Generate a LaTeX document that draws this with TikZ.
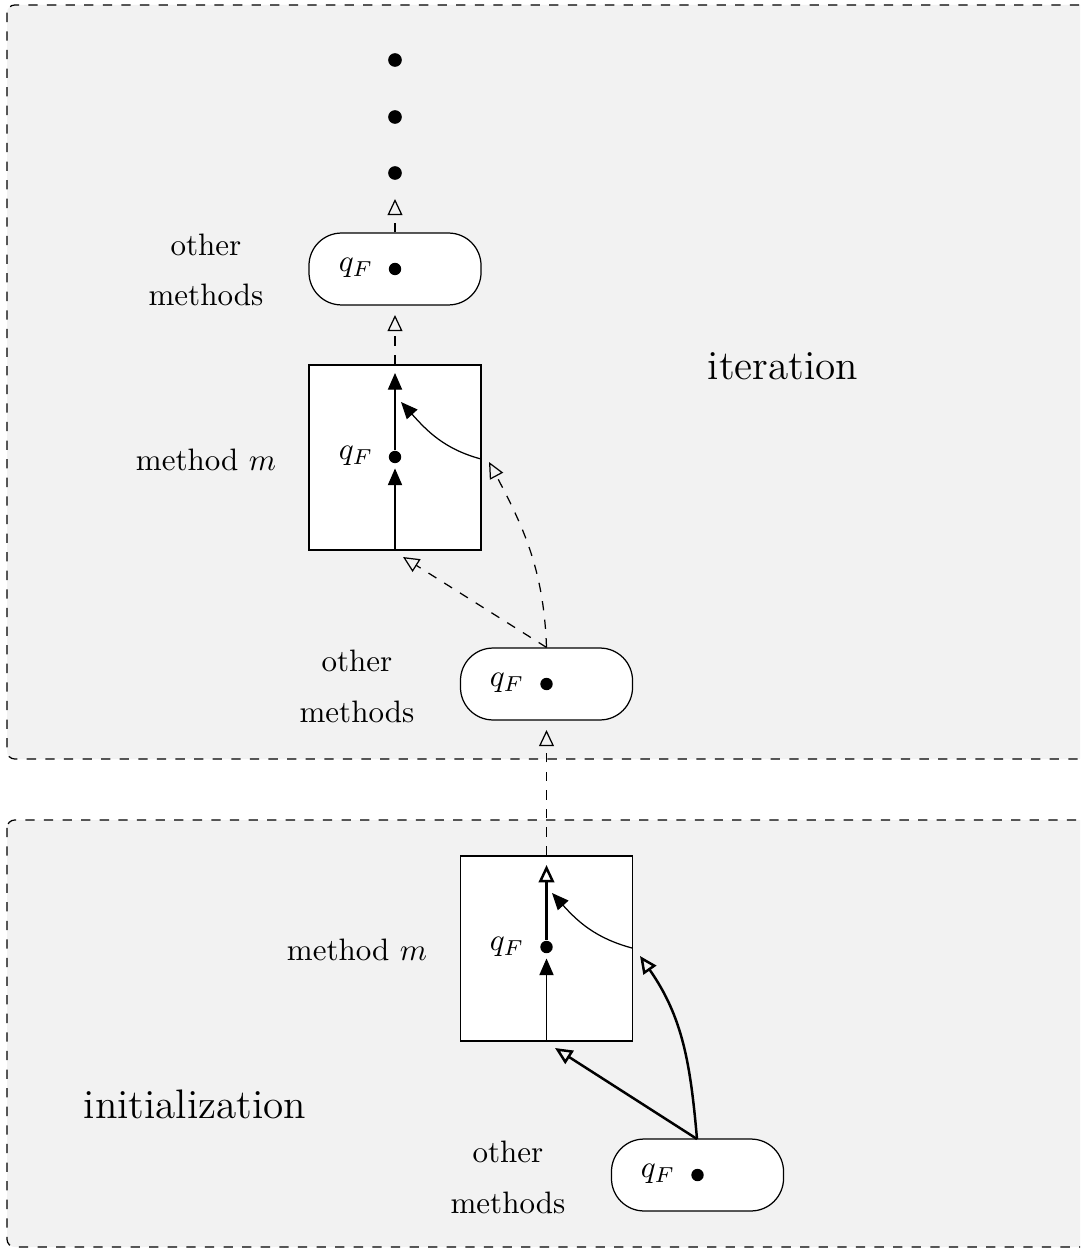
\documentclass[tikz,border=0pt]{standalone}
\usetikzlibrary{arrows.meta}
\begin{document}
\begin{tikzpicture}[x=0.3226pt,y=-0.3226pt,
  region/.style={draw,dashed,fill=black!5,rounded corners=2.5pt},
  roundnode/.style={draw,fill=white,rounded corners=10.5pt,minimum width=55.5pt,minimum height=23.2pt,inner sep=0pt},
  methbox/.style={draw,fill=white,minimum width=55.5pt,minimum height=59.7pt,inner sep=0pt},
  bigdot/.style={circle,fill=black,minimum size=4pt,inner sep=0pt},
  stackdot/.style={circle,fill=black,minimum size=4.4pt,inner sep=0pt},
  lbl/.style={align=center,font=\fontsize{10}{16.4}\selectfont},
  big/.style={font=\fontsize{13.3}{16}\selectfont},
  openarr/.style={-{Triangle[open,length=5.6pt,width=5pt]}},
  fillarr/.style={-{Triangle[length=5.4pt,width=4.6pt]}},
  dasharr/.style={dashed,-{Triangle[open,length=5.2pt,width=4.8pt]}}]
\clip (0,0) rectangle (1080,1249);
\useasboundingbox (0,0) rectangle (1080,1249);
\fill[white] (0,0) rectangle (1080,1249);
% regions
\draw[region] (7,5) rectangle (1100,759);
\draw[region] (7,820) rectangle (1100,1247);
% labels
\node[big] (iterlbl) at (783,366) {iteration};
\node[big] (initlbl) at (195,1104) {initialization};
% stacked dots
\node[stackdot] (d1) at (395,60) {};
\node[stackdot] (d2) at (395,117) {};
\node[stackdot] (d3) at (395,173) {};
\coordinate (topend) at (395,199);
% top node
\node[roundnode] (n1) at (395,269) {};
\node (n1q) at (356,268) {$q_F$};
\node[bigdot] (n1d) at (395,269) {};
\node[lbl] (n1l) at (206,270) {other\\methods};
% iteration box
\node[methbox] (b1) at (395,457.5) {};
\node (b1q) at (356,456) {$q_F$};
\node[bigdot] (b1d) at (395,457) {};
\node (b1l) at (206,460) {method $m$};
\coordinate (b1top) at (395,373);
\coordinate (b1right) at (481,459);
\coordinate (b1tip) at (401,402);
\coordinate (b1in1) at (489,462);
\coordinate (b1in2) at (403,557);
% iteration bottom node
\node[roundnode] (n2) at (546.5,684) {};
\node (n2q) at (507,683) {$q_F$};
\node[bigdot] (n2d) at (546.5,684) {};
\node[lbl] (n2l) at (357,686) {other\\methods};
% init box
\node[methbox] (b2) at (546.5,948.5) {};
\node (b2q) at (507,947) {$q_F$};
\node[bigdot] (b2d) at (546.5,947) {};
\node (b2l) at (357,950) {method $m$};
\coordinate (b2top) at (546.5,865);
\coordinate (b2right) at (632,948);
\coordinate (b2tip) at (552,893);
\coordinate (b2in1) at (640,956);
\coordinate (b2in2) at (555,1048);
% init bottom node
\node[roundnode] (n3) at (697.5,1175) {};
\node (n3q) at (658,1174) {$q_F$};
\node[bigdot] (n3d) at (697.5,1175) {};
\node[lbl] (n3l) at (508,1177) {other\\methods};
\coordinate (n3top) at (697,1139);
\coordinate (n2bot) at (546.5,730);
\coordinate (n1bot) at (395,315);
% connectors iteration
\draw[dasharr] (n1.north) -- (topend);
\draw[dasharr] (b1.north) -- (n1bot);
\draw[fillarr,shorten >=1.5pt] (b1.south) -- (b1d);
\draw[fillarr] (b1d) -- (b1top);
\draw[fillarr] (b1right) to[out=165,in=-48] (b1tip);
\draw[dasharr] (n2.north) -- (b1in2);
\draw[dasharr] (n2.north) to[out=92,in=-62] (b1in1);
% connector between regions
\draw[dasharr] (b2.north) -- (n2bot);
% init box
\draw[fillarr,shorten >=1.5pt] (b2.south) -- (b2d);
\draw[openarr,thick] (b2d) -- (b2top);
\draw[fillarr] (b2right) to[out=165,in=-48] (b2tip);
\draw[openarr,thick] (n3top) -- (b2in2);
\draw[openarr,thick] (n3top) to[out=95,in=-55] (b2in1);
\end{tikzpicture}
\end{document}
